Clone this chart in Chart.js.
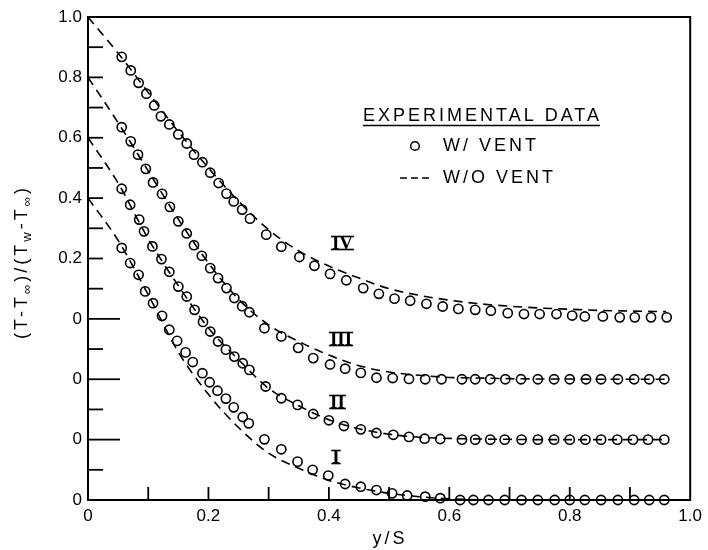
<!DOCTYPE html>
<html><head><meta charset="utf-8">
<script src="https://cdn.jsdelivr.net/npm/chart.js@4.4.0/dist/chart.umd.min.js"></script>
<style>html,body{margin:0;padding:0;background:#fff}</style>
</head><body>
<canvas id="c" width="708" height="550"></canvas>
<script>
// ---------- data ----------
const xTickLabels = ['0','0.2','0.4','0.6','0.8','1.0'];
const yTickLabels = ['0','0','0','0','0.2','0.4','0.6','0.8','1.0'];
const curveNames   = ['I','II','III','IV'];
const curveOffsets = [0, 0.2, 0.4, 0.6];

// experimental data, with vent (circles)
const ventX_I = [0.056,0.070,0.084,0.095,0.108,0.123,0.135,0.148,0.162,0.174,0.190,0.202,0.215,0.229,0.242,0.257,0.267,0.293,0.321,0.348,0.373,0.399,0.427,0.453,0.479,0.505,0.530,0.560,0.585,0.618,0.640,0.665,0.692,0.720,0.747,0.775,0.800,0.825,0.852,0.880,0.907,0.932,0.957];
const ventY_I = [0.835,0.785,0.746,0.691,0.652,0.610,0.564,0.527,0.489,0.457,0.420,0.390,0.362,0.336,0.307,0.275,0.254,0.201,0.168,0.127,0.100,0.081,0.053,0.044,0.033,0.022,0.015,0.011,0.006,0,0,0,0,0,0,0,0,0,0,0,0,0,0];

const ventX_II = [0.056,0.070,0.085,0.093,0.107,0.122,0.135,0.150,0.164,0.177,0.191,0.203,0.216,0.229,0.243,0.257,0.268,0.295,0.321,0.348,0.374,0.400,0.425,0.453,0.479,0.507,0.533,0.559,0.585,0.621,0.643,0.668,0.692,0.720,0.747,0.774,0.800,0.826,0.852,0.879,0.905,0.930,0.957];
const ventY_II = [0.831,0.778,0.729,0.690,0.640,0.598,0.556,0.507,0.474,0.430,0.390,0.358,0.325,0.298,0.275,0.253,0.231,0.176,0.137,0.115,0.085,0.064,0.045,0.034,0.022,0.016,0.009,0.003,0.002,0,0,0,0,0,0,0,0,0,0,0,0,0,0];

const ventX_III = [0.056,0.071,0.083,0.096,0.108,0.123,0.136,0.150,0.164,0.176,0.189,0.203,0.216,0.230,0.243,0.256,0.268,0.293,0.321,0.349,0.374,0.402,0.427,0.453,0.479,0.506,0.533,0.560,0.587,0.621,0.643,0.668,0.693,0.719,0.747,0.774,0.800,0.827,0.852,0.880,0.907,0.932,0.957];
const ventY_III = [0.835,0.788,0.744,0.697,0.652,0.614,0.571,0.523,0.483,0.444,0.409,0.368,0.335,0.302,0.269,0.242,0.222,0.169,0.142,0.104,0.070,0.049,0.035,0.021,0.005,0.004,0.001,0,0,0,0,0,0,0,0,0,0,0,0,0,0,0,0];

const ventX_IV = [0.056,0.071,0.084,0.097,0.110,0.121,0.135,0.150,0.164,0.176,0.190,0.203,0.217,0.230,0.242,0.256,0.269,0.296,0.321,0.351,0.376,0.402,0.429,0.457,0.483,0.509,0.535,0.562,0.589,0.615,0.643,0.669,0.697,0.724,0.750,0.778,0.804,0.825,0.855,0.883,0.908,0.935,0.961];
const ventY_IV = [0.868,0.823,0.782,0.746,0.707,0.671,0.644,0.611,0.581,0.544,0.519,0.484,0.450,0.415,0.389,0.362,0.332,0.279,0.239,0.205,0.176,0.149,0.128,0.102,0.083,0.067,0.060,0.050,0.041,0.033,0.030,0.027,0.019,0.016,0.016,0.016,0.011,0.008,0.008,0.005,0.005,0.005,0.005];

// without vent (dashed)
const noVentX     = [0,0.05,0.1,0.15,0.2,0.25,0.3,0.35,0.4,0.45,0.5,0.55,0.6,0.65,0.7,0.75,0.8,0.85,0.9,0.96];
const noVentY_I   = [1.0,0.86,0.68,0.49,0.35,0.24,0.155,0.105,0.065,0.04,0.022,0.011,0.004,0.001,0,0,0,0,0,0];
const noVentY_II  = [1.0,0.85,0.665,0.51,0.37,0.265,0.17,0.112,0.066,0.036,0.018,0.008,0.004,0.002,0.001,0,0,0,0,0];
const noVentY_III = [1.0,0.85,0.69,0.53,0.385,0.265,0.18,0.125,0.08,0.045,0.024,0.013,0.006,0.004,0.002,0.001,0.001,0,0,0];
const noVentY_IV  = [1.0,0.88,0.75,0.62,0.50,0.39,0.295,0.225,0.175,0.135,0.10,0.078,0.062,0.05,0.042,0.036,0.032,0.028,0.026,0.024];

const ventX = [ventX_I, ventX_II, ventX_III, ventX_IV];
const ventY = [ventY_I, ventY_II, ventY_III, ventY_IV];
const noVentY = [noVentY_I, noVentY_II, noVentY_III, noVentY_IV];

// ---------- build datasets ----------
const FONT = "'Liberation Sans', Arial, Helvetica, sans-serif";
const datasets = [];
curveNames.forEach((name, i) => {
  datasets.push({
    label: 'W/O VENT ' + name,
    data: noVentX.map((x, k) => ({x, y: noVentY[i][k] + curveOffsets[i]})),
    showLine: true, borderColor: '#000', borderWidth: 1.6, borderDash: [9, 6],
    pointRadius: 0, cubicInterpolationMode: 'monotone', fill: false, clip: false
  });
  datasets.push({
    label: 'W/ VENT ' + name,
    data: ventX[i].map((x, k) => ({x, y: ventY[i][k] + curveOffsets[i]})),
    showLine: false, pointStyle: 'circle', pointRadius: 4.6,
    pointBorderWidth: 1.6, pointBorderColor: '#000', pointBackgroundColor: 'rgba(0,0,0,0)',
    borderColor: '#000', backgroundColor: 'rgba(0,0,0,0)', clip: false
  });
});

function line(ctx, x1, y1, x2, y2) { ctx.beginPath(); ctx.moveTo(x1, y1); ctx.lineTo(x2, y2); ctx.stroke(); }

const decor = {
  id: 'decor',
  afterDraw(chart) {
    const {ctx, chartArea: a, scales: {x, y}} = chart;
    ctx.save();
    ctx.strokeStyle = '#000'; ctx.fillStyle = '#000';
    ctx.lineWidth = 2;
    ctx.strokeRect(a.left, a.top, a.right - a.left, a.bottom - a.top);
    // inner tick marks (y): every major tick plus midpoints
    ctx.lineWidth = 1.8;
    const yt = y.ticks.map(t => t.value);
    yt.forEach((v, i) => {
      if (i > 0 && i < yt.length - 1) {
        const len = (i >= 1 && i <= 3) ? 32 : 15;
        const py = y.getPixelForValue(v);
        line(ctx, a.left, py, a.left + len, py);
      }
      if (i < yt.length - 1) {
        const pm = y.getPixelForValue((v + yt[i + 1]) / 2);
        line(ctx, a.left, pm, a.left + 15, pm);
      }
    });
    const xt = x.ticks.map(t => t.value);
    xt.forEach((v, i) => {
      if (i > 0 && i < xt.length - 1) {
        const px = x.getPixelForValue(v);
        line(ctx, px, a.bottom, px, a.bottom - 13);
      }
      if (i < xt.length - 1) {
        const pm = x.getPixelForValue((v + xt[i + 1]) / 2);
        line(ctx, pm, a.bottom, pm, a.bottom - 13);
      }
    });

    // legend
    ctx.font = '18px ' + FONT;
    ctx.letterSpacing = '3px';
    ctx.textBaseline = 'middle'; ctx.textAlign = 'left';
    ctx.fillText('EXPERIMENTAL DATA', 363, 116);
    const w = ctx.measureText('EXPERIMENTAL DATA').width;
    ctx.lineWidth = 1.5;
    line(ctx, 363, 125.5, 363 + w - 2, 125.5);
    ctx.beginPath(); ctx.arc(415, 146, 4.3, 0, Math.PI * 2); ctx.lineWidth = 1.5; ctx.stroke();
    ctx.fillText('W/ VENT', 443, 146.5);
    ctx.setLineDash([7, 4]); ctx.lineWidth = 1.6;
    line(ctx, 400, 178, 432, 178);
    ctx.setLineDash([]);
    ctx.fillText('W/O VENT', 443, 178.5);

    // roman numerals
    const numPos = [[336, 457], [337.5, 402], [341, 339], [342.5, 243]];
    ctx.letterSpacing = '0px';
    ctx.font = 'bold 19px "Liberation Serif", "Times New Roman", serif';
    ctx.textAlign = 'center';
    curveNames.forEach((n, i) => {
      const [cx, cy] = numPos[i];
      ctx.fillText(n, cx, cy + 1);
      const tw = ctx.measureText(n).width;
      ctx.lineWidth = 1.6;
      line(ctx, cx - tw / 2 - 1, cy - 6.5, cx + tw / 2 + 1, cy - 6.5);
      line(ctx, cx - tw / 2 - 1, cy + 6.5, cx + tw / 2 + 1, cy + 6.5);
    });

    // x axis title
    ctx.font = '18px ' + FONT;
    ctx.letterSpacing = '3px';
    ctx.textAlign = 'center';
    ctx.fillText('y/S', 390, 539);

    // y axis title with subscripts, rotated
    const parts = [['(T-T', 0], ['\u221E', 1], [')/(T', 0], ['w', 1], ['-T', 0], ['\u221E', 1], [')', 0]];
    const big = '18px ' + FONT, small = '13px ' + FONT;
    ctx.letterSpacing = '3px';
    let total = 0;
    parts.forEach(([t, s]) => { ctx.font = s ? small : big; total += ctx.measureText(t).width; });
    ctx.translate(22, 262);
    ctx.rotate(-Math.PI / 2);
    ctx.textAlign = 'left';
    let cx = -total / 2;
    parts.forEach(([t, s]) => {
      ctx.font = s ? small : big;
      ctx.fillText(t, cx, s ? 5 : 0);
      cx += ctx.measureText(t).width;
    });
    ctx.restore();
  }
};

Chart.defaults.font.family = FONT;
Chart.defaults.color = '#000';

new Chart(document.getElementById('c'), {
  type: 'scatter',
  data: { datasets },
  options: {
    responsive: false, animation: false, devicePixelRatio: 1,
    layout: { padding: { top: 17, right: 15, left: 0, bottom: 0 } },
    plugins: { legend: { display: false }, tooltip: { enabled: false } },
    scales: {
      x: {
        type: 'linear', min: 0, max: 1, position: 'bottom',
        grid: { display: false, drawTicks: false },
        border: { display: false },
        ticks: { stepSize: 0.2, padding: 6, font: { size: 17 }, maxRotation: 0,
          callback: (v, i) => xTickLabels[i] },
        afterFit: s => { s.height = 50; }
      },
      y: {
        type: 'linear', min: 0, max: 1.6, position: 'left',
        grid: { display: false, drawTicks: false },
        border: { display: false },
        ticks: { stepSize: 0.2, padding: 6, font: { size: 17 },
          callback: (v, i) => yTickLabels[i] },
        afterFit: s => { s.width = 88; }
      }
    }
  },
  plugins: [decor]
});
</script>
</body></html>
